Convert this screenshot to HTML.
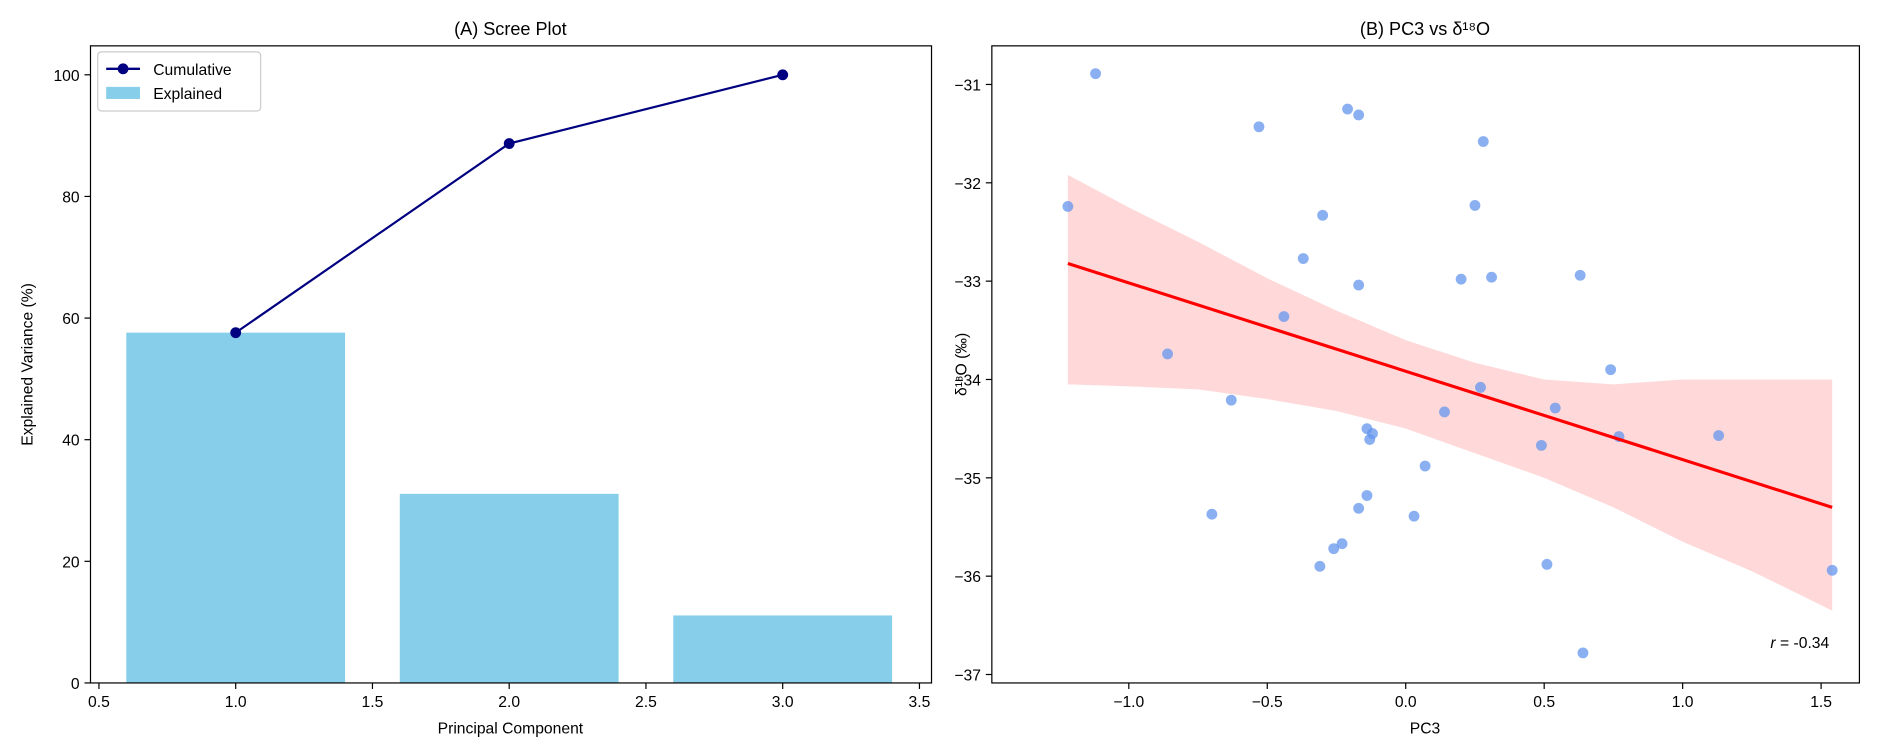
<!DOCTYPE html>
<html><head><meta charset="utf-8"><style>
body{margin:0;background:#fff}
svg{display:block;font-family:"Liberation Sans","DejaVu Sans",sans-serif}
</style></head><body>
<svg id="svgroot" width="1892" height="756"><g id="c" transform="scale(1.20663)"></g></svg>
<script>
const pcs=[1,2,3];
const explained=[57.6,31.1,11.1];
const cumulative=[57.6,88.7,100];
const leftXTicks=[0.5,1.0,1.5,2.0,2.5,3.0,3.5];
const leftYTicks=[0,20,40,60,80,100];
const pc3=[-1.22,-1.12,-0.53,-0.21,-0.17,0.28,-0.30,0.25,-0.37,-0.17,0.20,0.31,0.63,-0.44,-0.86,-0.63,0.27,0.14,0.74,0.54,-0.14,-0.12,-0.13,0.49,0.77,1.13,0.07,-0.14,-0.70,-0.17,0.03,-0.23,-0.26,-0.31,0.51,1.54,0.64];
const d18o=[-32.24,-30.89,-31.43,-31.25,-31.31,-31.58,-32.33,-32.23,-32.77,-33.04,-32.98,-32.96,-32.94,-33.36,-33.74,-34.21,-34.08,-34.33,-33.90,-34.29,-34.50,-34.55,-34.61,-34.67,-34.58,-34.57,-34.88,-35.18,-35.37,-35.31,-35.39,-35.67,-35.72,-35.90,-35.88,-35.94,-36.78];
const fitX=[-1.22,1.54];
const fitY=[-32.82,-35.30];
const bandX=[-1.22,-1.0,-0.75,-0.5,-0.25,0,0.25,0.5,0.75,1.0,1.25,1.54];
const bandUpper=[-31.92,-32.25,-32.6,-32.97,-33.3,-33.6,-33.83,-34.0,-34.05,-34.0,-34.0,-34.0];
const bandLower=[-34.05,-34.07,-34.1,-34.2,-34.32,-34.5,-34.75,-35.0,-35.3,-35.65,-35.95,-36.35];
const rightXTicks=[-1.0,-0.5,0.0,0.5,1.0,1.5];
const rightYTicks=[-31,-32,-33,-34,-35,-36,-37];

const svg=document.getElementById('c');
const NS='http://www.w3.org/2000/svg';
function mk(tag,attrs,text){const e=document.createElementNS(NS,tag);for(const k in attrs)e.setAttribute(k,attrs[k]);if(text!==undefined)e.textContent=text;svg.appendChild(e);return e;}
const fmt=v=>(v<0?'\u2212':'')+Math.abs(v).toFixed(1);

// Left axes
const L={x0:75,x1:772,y0:38,y1:566};
const lx=v=>82+(v-0.5)*(762-82)/3;
const ly=v=>566-v*(566-62)/100;
for(let i=0;i<pcs.length;i++){
  const b=mk('rect',{x:lx(pcs[i]-0.4),y:ly(explained[i]),width:lx(pcs[i]+0.4)-lx(pcs[i]-0.4),height:ly(0)-ly(explained[i]),fill:'#87ceeb'});
  
  
}
let pts=pcs.map((p,i)=>lx(p)+','+ly(cumulative[i])).join(' ');
let pl=mk('polyline',{points:pts,fill:'none',stroke:'#000080','stroke-width':1.8});


for(let i=0;i<pcs.length;i++){
  const c=mk('circle',{cx:lx(pcs[i]),cy:ly(cumulative[i]),r:4.5,fill:'#000080'});
  
  
}
mk('rect',{x:L.x0,y:L.y0,width:L.x1-L.x0,height:L.y1-L.y0,fill:'none',stroke:'#000','stroke-width':1,});
for(const t of leftXTicks){mk('line',{x1:lx(t),x2:lx(t),y1:566,y2:571,stroke:'#000'});
  const e=mk('text',{x:lx(t),y:586,'font-size':13,'text-anchor':'middle'},t.toFixed(1));}
for(const t of leftYTicks){mk('line',{x1:70,x2:75,y1:ly(t),y2:ly(t),stroke:'#000'});
  const e=mk('text',{x:66,y:ly(t)+5,'font-size':13,'text-anchor':'end'},String(t));}
mk('text',{x:423,y:29,'font-size':15,'text-anchor':'middle',},'(A) Scree Plot');
mk('text',{x:423,y:608,'font-size':13,'text-anchor':'middle',},'Principal Component');
mk('text',{x:27,y:302,'font-size':13,'text-anchor':'middle',transform:'rotate(-90 27 302)',},'Explained Variance (%)');
// legend
mk('rect',{x:81,y:43,width:135,height:49,rx:3,fill:'#fff',stroke:'#ccc',});
mk('line',{x1:88,x2:116,y1:57,y2:57,stroke:'#000080','stroke-width':2});
mk('circle',{cx:102,cy:57,r:4.5,fill:'#000080'});
mk('text',{x:127,y:62,'font-size':13,},'Cumulative');
mk('rect',{x:88,y:72,width:28,height:10,fill:'#87ceeb'});
mk('text',{x:127,y:82,'font-size':13,},'Explained');

// Right axes
const R={x0:822,x1:1541,y0:38,y1:566};
const rx=v=>1165+v*229.5;
const ry=v=>70+(-31-v)*81.5;
let bp=bandX.map((x,i)=>rx(x)+','+ry(bandUpper[i]));
for(let i=bandX.length-1;i>=0;i--)bp.push(rx(bandX[i])+','+ry(bandLower[i]));
const band=mk('polygon',{points:bp.join(' '),fill:'#ff0000','fill-opacity':0.15});


for(let i=0;i<pc3.length;i++){
  const c=mk('circle',{cx:rx(pc3[i]),cy:ry(d18o[i]),r:4.5,fill:'#6495ed','fill-opacity':0.75});
  
  
}
const fl=mk('line',{x1:rx(fitX[0]),y1:ry(fitY[0]),x2:rx(fitX[1]),y2:ry(fitY[1]),stroke:'#ff0000','stroke-width':2.6});


mk('rect',{x:R.x0,y:R.y0,width:R.x1-R.x0,height:R.y1-R.y0,fill:'none',stroke:'#000','stroke-width':1,});
for(const t of rightXTicks){mk('line',{x1:rx(t),x2:rx(t),y1:566,y2:571,stroke:'#000'});
  const e=mk('text',{x:rx(t),y:586,'font-size':13,'text-anchor':'middle'},fmt(t));}
for(const t of rightYTicks){mk('line',{x1:817,x2:822,y1:ry(t),y2:ry(t),stroke:'#000'});
  const e=mk('text',{x:813,y:ry(t)+5,'font-size':13,'text-anchor':'end'},'\u2212'+Math.abs(t));}
mk('text',{x:1181,y:29,'font-size':15,'text-anchor':'middle',},'(B) PC3 vs \u03b4\u00b9\u2078O');
mk('text',{x:1181,y:608,'font-size':13,'text-anchor':'middle',},'PC3');
mk('text',{x:801,y:302,'font-size':13,'text-anchor':'middle',transform:'rotate(-90 801 302)',},'\u03b4\u00b9\u2078O (\u2030)');
const rt=mk('text',{x:1516,y:537,'font-size':13,'text-anchor':'end',});
rt.innerHTML='<tspan font-style="italic">r</tspan> = -0.34';
</script>
</body></html>
